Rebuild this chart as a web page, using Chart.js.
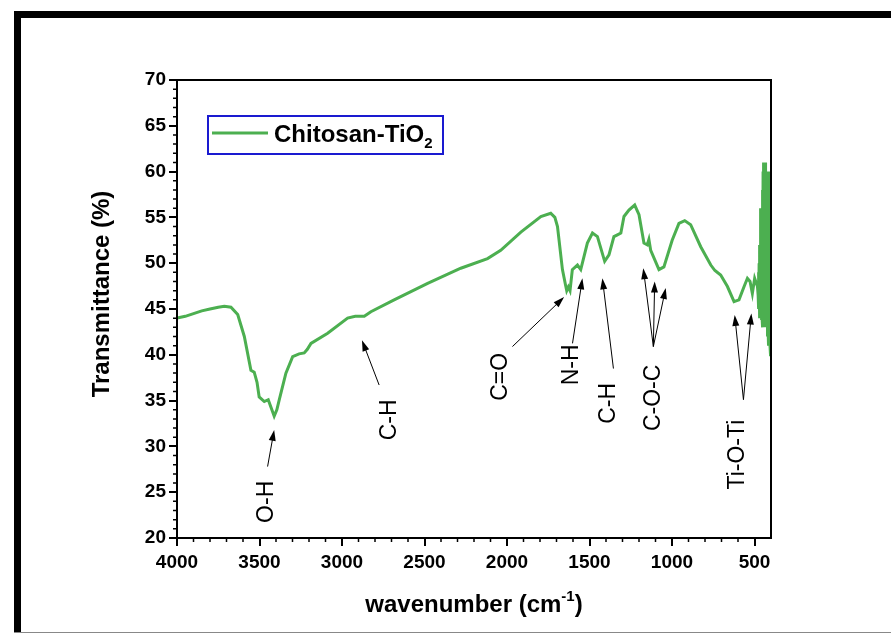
<!DOCTYPE html>
<html>
<head>
<meta charset="utf-8">
<script src="https://cdn.jsdelivr.net/npm/chart.js@4.4.0/dist/chart.umd.min.js"></script>
<style>
  html, body { margin: 0; padding: 0; background: #fff; }
  canvas { display: block; }
</style>
</head>
<body>
<canvas id="ftir" width="891" height="635"></canvas>
<script>
// FTIR spectrum of Chitosan-TiO2
const wavenumber = [
  4000, 3950, 3900, 3850, 3800, 3750, 3713, 3673, 3632, 3592,
  3552, 3532, 3515, 3502, 3471, 3447, 3425, 3411, 3395, 3380,
  3340, 3299, 3260, 3229, 3210, 3188, 3087, 2966, 2920, 2865,
  2825, 2684, 2481, 2280, 2118, 2038, 1916, 1795, 1735, 1710,
  1694, 1664, 1645, 1638, 1628, 1618, 1604, 1573, 1553, 1513,
  1482, 1452, 1408, 1382, 1352, 1331, 1310, 1291, 1261, 1226,
  1200, 1170, 1150, 1140, 1129, 1079, 1049, 999, 958, 923,
  887, 826, 765, 740, 705, 664, 624, 594, 563, 543,
  527, 513, 499, 482,
  // noisy tail near the detector limit
  478, 476, 474, 472, 470, 468, 466, 464, 462, 460,
  458, 456, 454, 452, 450, 448, 446, 444, 442, 440,
  438, 436, 434, 432, 430, 428, 426, 424, 422, 420,
  418, 416, 414, 412, 410, 408, 406, 404, 402, 400
];
const transmittance = [
  44.0, 44.2, 44.5, 44.8, 45.0, 45.2, 45.3, 45.2, 44.4, 42.0,
  38.3, 38.1, 37.0, 35.4, 34.9, 35.1, 34.0, 33.3, 34.0, 35.1,
  38.0, 39.8, 40.1, 40.2, 40.6, 41.25, 42.35, 44.0, 44.2, 44.2,
  44.7, 46.0, 47.8, 49.45, 50.5, 51.4, 53.4, 55.1, 55.45, 55.0,
  54.0, 49.3, 47.6, 47.0, 47.4, 47.0, 49.3, 49.8, 49.3, 52.2,
  53.3, 52.9, 50.2, 50.9, 52.9, 53.1, 53.3, 55.1, 55.8, 56.35,
  55.3, 52.2, 52.0, 52.6, 51.4, 49.3, 49.6, 52.5, 54.35, 54.65,
  54.2, 51.8, 49.8, 49.2, 48.7, 47.45, 45.8, 46.0, 47.45, 48.35,
  48.0, 46.7, 48.35, 47.45,
  46.5, 49.0, 45.0, 50.0, 44.0, 52.0, 45.0, 56.0, 44.0, 55.0,
  43.8, 56.0, 44.0, 58.0, 43.0, 60.0, 45.0, 61.0, 44.0, 59.0,
  46.0, 61.0, 43.0, 60.0, 45.0, 58.0, 44.0, 60.0, 42.0, 60.0,
  43.0, 59.0, 41.0, 60.0, 42.0, 60.0, 41.0, 58.0, 40.0, 40.0
];

const xTickValues = [4000, 3500, 3000, 2500, 2000, 1500, 1000, 500];
const yTickValues = [20, 25, 30, 35, 40, 45, 50, 55, 60, 65, 70];

// band assignments: label, label centre [wavenumber, %T], arrows [tailW, tailT, headW, headT]
const bandLabels = ['O-H', 'C-H', 'C=O', 'N-H', 'C-H', 'C-O-C', 'Ti-O-Ti'];
const bandLabelAt = [
  [3455, 23.95], [2714, 32.9], [2038, 37.6], [1609, 38.9],
  [1382, 34.7], [1113, 35.3], [604, 29.1]
];
const bandArrows = [
  [[3451, 27.8, 3411, 31.8]],
  [[2775, 36.7, 2879, 41.6]],
  [[1967, 40.9, 1654, 46.3]],
  [[1603, 41.25, 1543, 48.35]],
  [[1355, 38.5, 1422, 48.35]],
  [[1113, 40.9, 1174, 49.45], [1113, 40.9, 1105, 48.0], [1113, 40.9, 1038, 47.3]],
  [[567, 35.1, 620, 44.35], [567, 35.1, 519, 44.5]]
];

const FONT = "'Liberation Sans', Arial, sans-serif";
const GREEN = '#4caf50';

function drawArrow(ctx, x1, y1, x2, y2) {
  const ang = Math.atan2(y2 - y1, x2 - x1);
  const len = 11, half = 3.5;
  ctx.beginPath();
  ctx.moveTo(x1, y1);
  ctx.lineTo(x2 - Math.cos(ang) * len * 0.8, y2 - Math.sin(ang) * len * 0.8);
  ctx.stroke();
  ctx.beginPath();
  ctx.moveTo(x2, y2);
  ctx.lineTo(x2 - Math.cos(ang) * len - Math.sin(ang) * half, y2 - Math.sin(ang) * len + Math.cos(ang) * half);
  ctx.lineTo(x2 - Math.cos(ang) * len + Math.sin(ang) * half, y2 - Math.sin(ang) * len - Math.cos(ang) * half);
  ctx.closePath();
  ctx.fill();
}

const decorPlugin = {
  id: 'decor',
  beforeDraw(chart) {
    const ctx = chart.ctx;
    ctx.save();
    ctx.fillStyle = '#fff';
    ctx.fillRect(0, 0, chart.width, chart.height);
    // picture frame
    ctx.fillStyle = '#000';
    ctx.fillRect(14, 11, chart.width - 14, 7);
    ctx.fillRect(14, 11, 7, 622);
    ctx.fillStyle = '#888';
    ctx.fillRect(14, 632, chart.width - 14, 1);
    ctx.restore();
  },
  afterDraw(chart) {
    const ctx = chart.ctx;
    const area = chart.chartArea;
    const xs = chart.scales.x, ys = chart.scales.y;
    ctx.save();

    // plot box
    ctx.strokeStyle = '#000';
    ctx.lineWidth = 2;
    ctx.strokeRect(area.left, area.top, area.right - area.left, area.bottom - area.top);

    // minor ticks
    ctx.lineWidth = 1.5;
    ctx.beginPath();
    for (let w = 500; w <= 4000; w += 100) {
      if (w % 500 === 0) continue;
      const px = xs.getPixelForValue(w);
      ctx.moveTo(px, area.bottom);
      ctx.lineTo(px, area.bottom + 4);
    }
    for (let t = 20; t <= 70; t += 1) {
      if (t % 5 === 0) continue;
      const py = ys.getPixelForValue(t);
      ctx.moveTo(area.left, py);
      ctx.lineTo(area.left - 4, py);
    }
    ctx.stroke();

    // legend
    const lx = area.left + 31, ly = area.top + 36;
    ctx.strokeStyle = '#1a1ad0';
    ctx.lineWidth = 2;
    ctx.strokeRect(lx, ly, 235, 38);
    ctx.strokeStyle = GREEN;
    ctx.lineWidth = 3;
    ctx.beginPath();
    ctx.moveTo(lx + 4, ly + 17);
    ctx.lineTo(lx + 60, ly + 17);
    ctx.stroke();
    ctx.fillStyle = '#000';
    ctx.textBaseline = 'alphabetic';
    ctx.textAlign = 'left';
    ctx.font = 'bold 24px ' + FONT;
    const lbl = 'Chitosan-TiO';
    ctx.fillText(lbl, lx + 66, ly + 26);
    const lw = ctx.measureText(lbl).width;
    ctx.font = 'bold 15px ' + FONT;
    ctx.fillText('2', lx + 66 + lw, ly + 32);

    // axis titles
    ctx.font = 'bold 24px ' + FONT;
    ctx.textAlign = 'center';
    ctx.textBaseline = 'middle';
    ctx.save();
    ctx.translate(102, (area.top + area.bottom) / 2 - 15);
    ctx.rotate(-Math.PI / 2);
    ctx.fillText('Transmittance (%)', 0, 0);
    ctx.restore();

    const t1 = 'wavenumber (cm', sup = '-1', t2 = ')';
    ctx.font = 'bold 24px ' + FONT;
    const w1 = ctx.measureText(t1).width, w3 = ctx.measureText(t2).width;
    ctx.font = 'bold 15px ' + FONT;
    const w2 = ctx.measureText(sup).width;
    let cx = (area.left + area.right) / 2 - (w1 + w2 + w3) / 2;
    const base = 612;
    ctx.textAlign = 'left';
    ctx.textBaseline = 'alphabetic';
    ctx.font = 'bold 24px ' + FONT;
    ctx.fillText(t1, cx, base);
    ctx.font = 'bold 15px ' + FONT;
    ctx.fillText(sup, cx + w1, base - 11);
    ctx.font = 'bold 24px ' + FONT;
    ctx.fillText(t2, cx + w1 + w2, base);

    // band assignments
    ctx.strokeStyle = '#000';
    ctx.fillStyle = '#000';
    ctx.lineWidth = 1;
    bandArrows.forEach(list => list.forEach(a => {
      drawArrow(ctx, xs.getPixelForValue(a[0]), ys.getPixelForValue(a[1]),
        xs.getPixelForValue(a[2]), ys.getPixelForValue(a[3]));
    }));
    ctx.font = '23px ' + FONT;
    ctx.textAlign = 'center';
    ctx.textBaseline = 'middle';
    bandLabels.forEach((txt, i) => {
      ctx.save();
      ctx.translate(xs.getPixelForValue(bandLabelAt[i][0]), ys.getPixelForValue(bandLabelAt[i][1]));
      ctx.rotate(-Math.PI / 2);
      ctx.fillText(txt, 0, 0);
      ctx.restore();
    });
    ctx.restore();
  }
};

new Chart(document.getElementById('ftir'), {
  type: 'line',
  data: {
    datasets: [{
      label: 'Chitosan-TiO2',
      data: wavenumber.map((w, i) => ({ x: w, y: transmittance[i] })),
      borderColor: GREEN,
      borderWidth: 3,
      pointRadius: 0,
      tension: 0,
      fill: false
    }]
  },
  options: {
    responsive: false,
    animation: false,
    devicePixelRatio: 1,
    layout: { padding: { left: 120, top: 80, right: 120, bottom: 47 } },
    plugins: { legend: { display: false }, tooltip: { enabled: false } },
    scales: {
      x: {
        type: 'linear',
        reverse: true,
        min: 400,
        max: 4000,
        afterBuildTicks: s => { s.ticks = xTickValues.map(v => ({ value: v })); },
        afterFit: s => { s.height = 50; },
        grid: { drawOnChartArea: false, color: '#000', lineWidth: 2, tickLength: 8 },
        border: { display: true, color: '#000', width: 2 },
        ticks: {
          color: '#000',
          font: { family: FONT, size: 19, weight: 'bold' },
          padding: 5,
          maxRotation: 0,
          callback: v => String(v)
        }
      },
      y: {
        min: 20,
        max: 70,
        afterBuildTicks: s => { s.ticks = yTickValues.map(v => ({ value: v })); },
        afterFit: s => { s.width = 57; },
        grid: { drawOnChartArea: false, color: '#000', lineWidth: 2, tickLength: 8 },
        border: { display: true, color: '#000', width: 2 },
        ticks: {
          color: '#000',
          font: { family: FONT, size: 19, weight: 'bold' },
          padding: 3,
          callback: v => String(v)
        }
      }
    }
  },
  plugins: [decorPlugin]
});
</script>
</body>
</html>
